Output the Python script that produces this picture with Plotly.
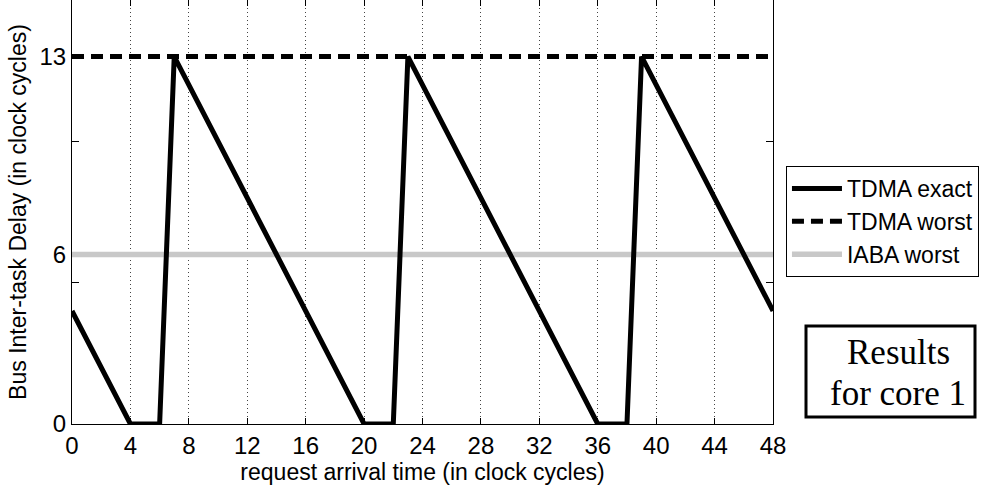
import plotly.graph_objects as go

# Request arrival times (clock cycles) and the exact TDMA inter-task delay
arrival_time = [0, 4, 6, 7, 20, 22, 23, 36, 38, 39, 48]
tdma_exact = [4, 0, 0, 13, 0, 0, 13, 0, 0, 13, 4]

# Worst-case bounds over the whole window
bound_span = [0, 48]
tdma_worst = [13, 13]
iaba_worst = [6, 6]

x_ticks = list(range(0, 49, 4))
y_label_ticks = [0, 6, 13]
y_minor_ticks = [0, 5, 10, 15]

caption_lines = ["Results", "for core 1"]

font_sans = "Liberation Sans, Arial, sans-serif"
font_serif = "Liberation Serif, Times New Roman, serif"

fig = go.Figure()

fig.add_trace(go.Scatter(
    x=bound_span, y=iaba_worst, mode="lines", name="IABA worst",
    line=dict(color="#c8c8c8", width=5.5), legendrank=3,
))
fig.add_trace(go.Scatter(
    x=bound_span, y=tdma_worst, mode="lines", name="TDMA worst",
    line=dict(color="black", width=5, dash="12px,7px"), legendrank=2,
))
fig.add_trace(go.Scatter(
    x=arrival_time, y=tdma_exact, mode="lines", name="TDMA exact",
    line=dict(color="black", width=5), legendrank=1,
))

# Hidden helper trace on the secondary axes so their ticks render
fig.add_trace(go.Scatter(
    x=bound_span, y=[0, 0], xaxis="x2", yaxis="y2", mode="lines",
    line=dict(width=0), showlegend=False, hoverinfo="skip",
))

fig.update_layout(
    width=986, height=489,
    margin=dict(l=72, r=213, t=0, b=65),
    paper_bgcolor="white", plot_bgcolor="white",
    font=dict(family=font_sans, color="black"),
    showlegend=True,
    legend=dict(
        x=1.0185, y=0.6085, xanchor="left", yanchor="top",
        bgcolor="white", bordercolor="black", borderwidth=1,
        font=dict(size=23, family=font_sans, color="black"),
        itemwidth=50, tracegroupgap=0,
    ),
    xaxis=dict(
        range=[0, 48], tickvals=x_ticks, ticks="inside", ticklen=6,
        tickcolor="black", showline=True, linecolor="black", linewidth=1,
        mirror=False, showgrid=True, gridcolor="#444", gridwidth=1,
        griddash="1px,3px", zeroline=False,
        tickfont=dict(size=24, family=font_sans),
        title=dict(text="request arrival time (in clock cycles)",
                   font=dict(size=23, family=font_sans), standoff=4),
    ),
    xaxis2=dict(
        range=[0, 48], overlaying="x", side="top", tickvals=x_ticks,
        ticks="inside", ticklen=6, tickcolor="black", showticklabels=False,
        showline=False, showgrid=False, zeroline=False,
    ),
    yaxis=dict(
        range=[0, 15], tickvals=y_label_ticks, ticks="", showline=True,
        linecolor="black", linewidth=1, mirror=True, showgrid=False,
        zeroline=False, tickfont=dict(size=24, family=font_sans),
        title=dict(text="Bus Inter-task Delay (in clock cycles)",
                   font=dict(size=23, family=font_sans), standoff=6),
    ),
    yaxis2=dict(
        range=[0, 15], overlaying="y", side="left", tickvals=y_minor_ticks,
        ticks="inside", ticklen=7, tickcolor="black", showticklabels=False,
        showline=True, linecolor="black", mirror="ticks", showgrid=False,
        zeroline=False,
    ),
)

# Caption box beside the plot
fig.add_shape(
    type="rect", xref="paper", yref="paper",
    x0=(806 - 72) / 701, x1=(975 - 72) / 701,
    y0=(424 - 417) / 424, y1=(424 - 326) / 424,
    line=dict(color="black", width=3), fillcolor="white",
)
for line_text, y_px in zip(caption_lines, [352, 393]):
    fig.add_annotation(
        xref="paper", yref="paper", x=(898 - 72) / 701, y=(424 - y_px) / 424,
        xanchor="center", yanchor="middle",
        text=line_text, showarrow=False,
        font=dict(family=font_serif, size=35, color="black"),
    )

fig.write_html("out.html")
